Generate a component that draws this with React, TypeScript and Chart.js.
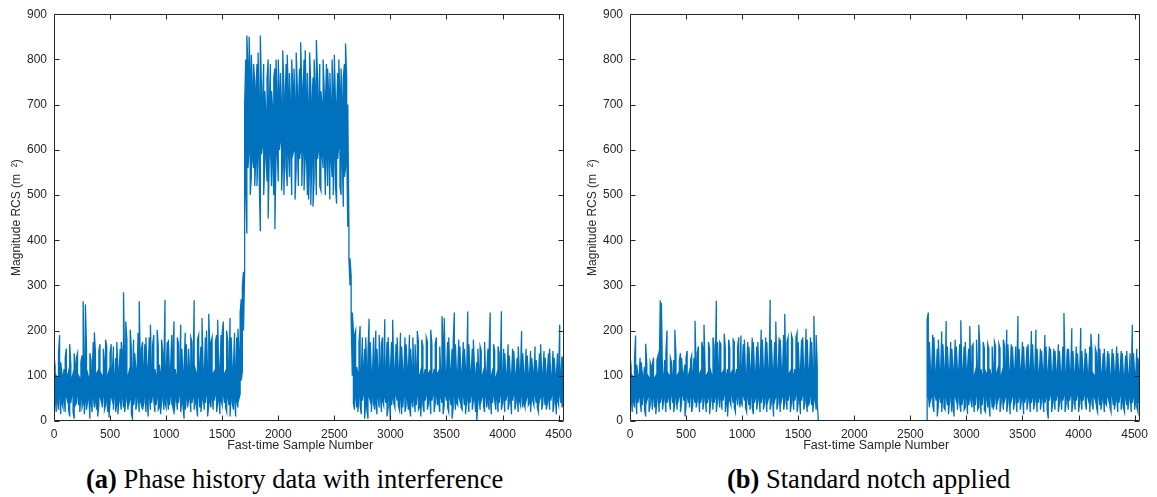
import React, { useEffect, useRef } from "react";
import { Chart, registerables } from "chart.js";

Chart.register(...registerables);

// ---------------- data ----------------
// Each series is stored as its envelope: for every bin of SAMPLE_STEP fast-time
// samples, the lowest and highest magnitude.
const SAMPLE_STEP = 10;
const X_MAX = 4550;
const Y_MAX = 900;
const X_TICKS = [0, 500, 1000, 1500, 2000, 2500, 3000, 3500, 4000, 4500];
const Y_TICKS = [0, 100, 200, 300, 400, 500, 600, 700, 800, 900];

const X_TITLE = "Fast-time Sample Number";
const Y_TITLE = "Magnitude RCS (m  \u00B2)";
const CAPTION_A_LABEL = "(a)";
const CAPTION_A_TEXT = " Phase history data with interference";
const CAPTION_B_LABEL = "(b)";
const CAPTION_B_TEXT = " Standard notch applied";

// Panel (a): phase history data with interference (bins from sample 0)
const A_START = 0;
const A_HIGH = [
  145, 120, 100, 95, 150, 190, 130, 105, 98, 115, 140, 160, 100, 110, 170, 125, 95, 105, 150, 120,
  140, 150, 100, 95, 130, 145, 265, 110, 258, 160, 105, 95, 150, 135, 100, 175, 196, 150, 105, 110,
  155, 170, 105, 100, 160, 130, 180, 165, 100, 110, 150, 170, 105, 165, 95, 140, 175, 120, 100, 160,
  175, 150, 285, 120, 220, 180, 100, 110, 202, 160, 100, 180, 150, 115, 100, 195, 265, 120, 160, 175,
  110, 170, 185, 100, 120, 185, 213, 105, 170, 190, 115, 100, 202, 165, 125, 105, 180, 150, 115, 268,
  110, 175, 180, 105, 120, 190, 150, 220, 115, 100, 185, 170, 105, 213, 160, 100, 115, 195, 170, 105,
  160, 110, 185, 175, 100, 267, 115, 105, 180, 190, 120, 165, 228, 110, 100, 185, 200, 105, 237, 160,
  175, 185, 105, 110, 175, 190, 224, 100, 115, 190, 195, 220, 105, 110, 200, 175, 105, 228, 185, 110,
  115, 195, 110, 185, 204, 150, 240, 270, 300, 330, 700, 800, 853, 780, 850, 760, 810, 730, 790, 750,
  720, 790, 815, 700, 853, 740, 700, 790, 730, 680, 760, 800, 700, 790, 730, 690, 760, 780, 800, 710,
  800, 720, 770, 690, 820, 740, 700, 790, 810, 720, 770, 700, 800, 730, 780, 700, 815, 740, 700, 780,
  838, 740, 720, 800, 820, 710, 770, 690, 815, 740, 700, 760, 800, 730, 843, 760, 700, 790, 730, 700,
  800, 730, 700, 790, 780, 720, 770, 700, 800, 730, 810, 710, 690, 770, 800, 720, 780, 700, 760, 790,
  835, 760, 700, 430, 360, 320, 240, 200, 190, 200, 120, 105, 175, 210, 100, 185, 115, 160, 185, 110,
  150, 226, 175, 110, 100, 185, 120, 200, 160, 105, 190, 115, 170, 185, 100, 225, 110, 175, 185, 115,
  110, 175, 224, 120, 100, 170, 185, 115, 105, 195, 165, 110, 100, 185, 170, 120, 105, 190, 160, 115,
  185, 105, 170, 115, 199, 175, 100, 110, 180, 165, 100, 115, 185, 175, 105, 110, 202, 170, 100, 115,
  170, 185, 105, 110, 165, 100, 232, 175, 228, 105, 100, 175, 185, 115, 105, 160, 175, 240, 170, 100,
  110, 180, 165, 100, 105, 175, 160, 115, 100, 242, 170, 110, 100, 160, 180, 115, 100, 130, 160, 105,
  165, 155, 100, 110, 175, 95, 105, 160, 150, 240, 100, 110, 170, 155, 95, 105, 165, 150, 100, 243,
  100, 160, 150, 95, 105, 170, 145, 100, 95, 160, 155, 105, 95, 140, 165, 110, 100, 199, 150, 105,
  95, 160, 145, 105, 95, 155, 140, 110, 95, 165, 135, 105, 100, 150, 170, 95, 105, 155, 140, 95,
  110, 150, 160, 95, 100, 155, 140, 105, 95, 150, 100, 213, 105, 143, 140,
];
const A_LOW = [
  30, 55, 20, 45, 25, 60, 15, 40, 30, 50, 20, 55, 45, 25, 10, 40, 60, 20, 5, 35,
  40, 60, 35, 20, 55, 30, 40, 15, 50, 25, 45, 60, 5, 40, 20, 55, 30, 45, 25, 10,
  35, 55, 45, 30, 60, 25, 35, 50, 20, 8, 40, 55, 45, 25, 60, 20, 40, 15, 50, 45,
  25, 55, 30, 20, 45, 60, 25, 40, 50, 15, 5, 35, 55, 25, 40, 60, 20, 45, 35, 25,
  40, 60, 20, 45, 10, 55, 25, 40, 60, 45, 20, 35, 55, 25, 30, 15, 45, 60, 25, 40,
  30, 55, 25, 35, 60, 40, 30, 15, 45, 55, 25, 40, 60, 20, 45, 35, 5, 25, 55, 30,
  45, 60, 20, 40, 55, 25, 45, 35, 10, 60, 30, 20, 45, 55, 25, 40, 60, 10, 35, 45,
  30, 55, 25, 45, 60, 20, 40, 55, 15, 45, 35, 60, 40, 30, 20, 55, 35, 10, 60, 40,
  25, 55, 10, 45, 30, 50, 60, 90, 110, 200, 330, 520, 415, 560, 600, 500, 540, 580, 560, 520,
  580, 520, 600, 540, 420, 590, 610, 500, 570, 600, 530, 448, 590, 610, 520, 580, 500, 425, 590, 600,
  530, 600, 620, 510, 580, 500, 610, 560, 520, 600, 540, 610, 500, 590, 600, 490, 560, 610, 520, 580,
  600, 520, 610, 510, 580, 600, 500, 490, 570, 478, 590, 474, 540, 610, 500, 580, 600, 520, 510, 590,
  560, 610, 500, 590, 520, 600, 490, 580, 540, 500, 600, 520, 481, 580, 610, 520, 500, 590, 474, 540,
  560, 600, 430, 360, 300, 230, 100, 40, 25, 55, 30, 20, 60, 35, 15, 45, 60, 5, 40, 25,
  5, 55, 45, 20, 60, 40, 25, 45, 15, 55, 30, 60, 20, 45, 35, 55, 40, 10, 30, 60,
  0, 35, 55, 40, 30, 60, 45, 35, 25, 55, 15, 30, 60, 20, 35, 55, 25, 30, 10, 45,
  30, 55, 20, 35, 60, 25, 30, 10, 55, 35, 20, 45, 60, 25, 40, 55, 15, 45, 60, 20,
  40, 60, 35, 45, 20, 55, 40, 15, 35, 60, 45, 30, 20, 55, 35, 5, 30, 60, 25, 40,
  35, 55, 45, 30, 25, 60, 35, 15, 45, 55, 20, 40, 60, 25, 45, 55, 20, 0, 40, 55,
  25, 45, 55, 35, 20, 60, 30, 45, 25, 55, 15, 40, 60, 45, 25, 55, 20, 40, 60, 25,
  40, 55, 20, 45, 60, 25, 40, 55, 15, 45, 60, 25, 40, 55, 20, 45, 35, 60, 30, 40,
  30, 45, 55, 35, 40, 20, 55, 45, 35, 60, 40, 30, 20, 45, 55, 25, 40, 60, 35, 25,
  40, 55, 25, 45, 60, 20, 40, 55, 15, 45, 35, 60, 40, 30, 45,
];

// Panel (b): standard notch applied
const B_LEFT_START = 0;
const B_LEFT_HIGH = [
  145, 120, 100, 95, 135, 189, 125, 100, 95, 140, 130, 105, 95, 120, 171, 125, 100, 95, 130, 120,
  125, 140, 95, 100, 135, 145, 105, 267, 261, 100, 95, 135, 150, 200, 105, 100, 140, 130, 95, 135,
  202, 145, 100, 105, 135, 150, 140, 100, 105, 125, 140, 155, 100, 110, 135, 145, 100, 140, 222, 110,
  150, 165, 105, 110, 175, 160, 213, 115, 100, 105, 175, 160, 110, 100, 185, 165, 105, 266, 175, 110,
  175, 170, 105, 110, 193, 160, 100, 115, 180, 160, 105, 110, 180, 175, 100, 115, 165, 185, 105, 189,
  110, 170, 180, 105, 100, 175, 165, 115, 105, 184, 175, 110, 100, 165, 175, 110, 105, 202, 180, 110,
  105, 185, 175, 110, 100, 268, 180, 115, 105, 175, 220, 110, 100, 185, 180, 115, 105, 190, 237, 110,
  175, 185, 105, 110, 190, 180, 100, 115, 185, 195, 175, 105, 110, 180, 185, 100, 110, 204, 180, 105,
  110, 185, 175, 105, 233, 110, 190, 120,
];
const B_LEFT_LOW = [
  35, 55, 20, 45, 30, 60, 15, 40, 55, 45, 20, 35, 60, 25, 10, 45, 55, 20, 35, 60,
  25, 55, 30, 15, 45, 60, 20, 40, 55, 25, 45, 60, 20, 40, 55, 45, 25, 60, 40, 20,
  40, 60, 25, 45, 55, 20, 40, 60, 45, 10, 35, 55, 40, 30, 60, 20, 35, 55, 40, 30,
  45, 60, 20, 40, 55, 25, 45, 60, 20, 40, 55, 15, 45, 60, 25, 40, 55, 20, 45, 60,
  30, 55, 25, 45, 60, 20, 40, 10, 55, 45, 35, 60, 40, 30, 20, 55, 35, 60, 30, 40,
  35, 60, 45, 30, 20, 55, 35, 25, 60, 30, 15, 40, 55, 25, 45, 60, 20, 40, 55, 25,
  40, 60, 20, 45, 55, 25, 40, 60, 10, 45, 55, 25, 40, 60, 20, 45, 55, 25, 40, 60,
  25, 45, 60, 20, 40, 55, 25, 45, 60, 20, 40, 55, 15, 45, 60, 25, 40, 55, 20, 35,
  40, 60, 35, 20, 45, 55, 25, 40,
];
const NOTCH_START = 1680;
const NOTCH_END = 2640;
const NOTCH_VALUE = 0;
const B_RIGHT_START = 2650;
const B_RIGHT_HIGH = [
  224, 240, 175, 110, 105, 191, 185, 115, 100, 160, 180, 110, 105, 198, 170, 115, 100, 221, 165, 110,
  105, 175, 160, 115, 100, 180, 165, 110, 105, 170, 223, 100, 110, 165, 175, 105, 115, 160, 210, 105,
  165, 170, 100, 110, 180, 105, 213, 165, 115, 100, 175, 160, 110, 105, 170, 160, 115, 100, 165, 110,
  175, 165, 105, 115, 170, 160, 100, 110, 180, 165, 105, 202, 170, 110, 100, 170, 165, 115, 105, 165,
  110, 232, 160, 105, 115, 175, 165, 100, 110, 165, 170, 105, 115, 199, 170, 100, 110, 202, 160, 105,
  100, 160, 155, 110, 105, 190, 165, 100, 110, 165, 160, 100, 105, 160, 155, 110, 100, 170, 155, 105,
  100, 165, 239, 105, 100, 160, 160, 110, 100, 205, 155, 105, 100, 165, 150, 110, 100, 206, 155, 105,
  100, 160, 150, 105, 100, 165, 193, 155, 105, 100, 160, 150, 110, 193, 160, 100, 105, 150, 160, 100,
  105, 155, 150, 100, 95, 160, 150, 105, 100, 165, 150, 95, 105, 155, 150, 100, 95, 145, 155, 100,
  100, 150, 95, 213, 150, 105, 100, 160, 140, 105,
];
const B_RIGHT_LOW = [
  0, 60, 30, 45, 55, 35, 20, 60, 45, 10, 35, 55, 40, 20, 60, 30, 25, 55, 35, 15,
  45, 60, 20, 40, 10, 55, 45, 25, 60, 40, 20, 35, 55, 25, 30, 60, 15, 35, 55, 45,
  30, 55, 20, 35, 60, 25, 30, 55, 15, 35, 60, 25, 20, 55, 30, 45, 10, 60, 30, 25,
  40, 60, 25, 45, 55, 20, 40, 60, 25, 45, 55, 20, 40, 60, 15, 45, 55, 25, 40, 60,
  20, 40, 55, 25, 45, 60, 15, 40, 55, 25, 45, 60, 20, 40, 55, 25, 45, 60, 20, 40,
  55, 25, 45, 60, 20, 40, 55, 25, 5, 45, 60, 20, 40, 55, 25, 45, 60, 20, 40, 55,
  25, 45, 60, 20, 40, 55, 25, 45, 60, 20, 40, 55, 25, 45, 60, 20, 40, 55, 25, 45,
  60, 40, 25, 55, 45, 20, 60, 40, 25, 55, 45, 30, 20, 60, 35, 25, 45, 60, 20, 40,
  35, 55, 45, 30, 20, 60, 35, 25, 45, 55, 20, 40, 60, 25, 45, 30, 20, 55, 35, 25,
  45, 60, 20, 40, 55, 25, 45, 30, 20, 40,
];

// ---------------- styles ----------------
const LINE_COLOR = "#0072BD";
const AXIS_COLOR = "#262626";
const SANS = "'Liberation Sans', Arial, Helvetica, sans-serif";
const SERIF = "'Liberation Serif', 'Times New Roman', Times, serif";
const CANVAS_W = 578;
const CANVAS_H = 460;

type Pt = { x: number; y: number };

// Trace each bin's envelope as a vertical stroke, alternating direction so the
// polyline runs along the top and bottom edges between bins.
function envelopePoints(start: number, lows: number[], highs: number[]): Pt[] {
  const pts: Pt[] = [];
  lows.forEach((lo, i) => {
    const x = start + i * SAMPLE_STEP;
    const hi = highs[i];
    if (i % 2 === 0) {
      pts.push({ x, y: lo }, { x, y: hi });
    } else {
      pts.push({ x, y: hi }, { x, y: lo });
    }
  });
  return pts;
}

const boxPlugin = {
  id: "matlabBox",
  afterDatasetsDraw(chart: any) {
    const { ctx, chartArea, scales } = chart;
    const { left, right, top, bottom } = chartArea;
    const xs = scales.x;
    const ys = scales.y;
    const L = Math.round(left) + 0.5;
    const R = Math.round(right) - 0.5;
    const T = Math.round(top) + 0.5;
    const B = Math.round(bottom) - 0.5;
    const tick = 5;
    ctx.save();
    ctx.strokeStyle = AXIS_COLOR;
    ctx.lineWidth = 1;
    ctx.beginPath();
    ctx.moveTo(L, T);
    ctx.lineTo(R, T);
    ctx.lineTo(R, B);
    ctx.lineTo(L, B);
    ctx.closePath();
    for (const v of X_TICKS) {
      const px = Math.round(xs.getPixelForValue(v)) + 0.5;
      ctx.moveTo(px, B);
      ctx.lineTo(px, B - tick);
      ctx.moveTo(px, T);
      ctx.lineTo(px, T + tick);
    }
    for (const v of Y_TICKS) {
      const py = Math.round(ys.getPixelForValue(v)) + 0.5;
      ctx.moveTo(L, py);
      ctx.lineTo(L + tick, py);
      ctx.moveTo(R, py);
      ctx.lineTo(R - tick, py);
    }
    ctx.stroke();
    // x-axis title (MATLAB places it slightly left of the axes centre)
    ctx.fillStyle = AXIS_COLOR;
    ctx.font = "12.5px " + SANS;
    ctx.textAlign = "center";
    ctx.textBaseline = "middle";
    ctx.fillText(X_TITLE, (left + right) / 2 - 9, 446);
    ctx.restore();
  },
};

function makeConfig(points: Pt[]): any {
  return {
    type: "line",
    data: {
      datasets: [
        {
          data: points,
          borderColor: LINE_COLOR,
          backgroundColor: LINE_COLOR,
          borderWidth: 1.3,
          pointRadius: 0,
          tension: 0,
          fill: false,
        },
      ],
    },
    options: {
      animation: false,
      responsive: false,
      maintainAspectRatio: false,
      parsing: false,
      events: [],
      layout: { padding: { top: 13, right: 5, left: 0, bottom: 0 } },
      plugins: { legend: { display: false }, tooltip: { enabled: false } },
      scales: {
        x: {
          type: "linear",
          min: 0,
          max: X_MAX,
          grid: { display: false, drawTicks: false },
          border: { display: false },
          afterBuildTicks: (s: any) => {
            s.ticks = X_TICKS.map((v) => ({ value: v }));
          },
          afterFit: (s: any) => {
            s.height = CANVAS_H - 421;
          },
          ticks: {
            padding: 6,
            color: AXIS_COLOR,
            font: { family: SANS, size: 12 },
            maxRotation: 0,
            autoSkip: false,
            callback: (v: any) => String(v),
          },
          title: { display: false, text: X_TITLE },
        },
        y: {
          type: "linear",
          min: 0,
          max: Y_MAX,
          grid: { display: false, drawTicks: false },
          border: { display: false },
          afterBuildTicks: (s: any) => {
            s.ticks = Y_TICKS.map((v) => ({ value: v }));
          },
          afterFit: (s: any) => {
            s.width = 54;
          },
          ticks: {
            padding: 7,
            color: AXIS_COLOR,
            font: { family: SANS, size: 12 },
            autoSkip: false,
            callback: (v: any) => String(v),
          },
          title: {
            display: true,
            text: Y_TITLE,
            color: AXIS_COLOR,
            font: { family: SANS, size: 12 },
            padding: { top: 9, bottom: 0 },
          },
        },
      },
    },
    plugins: [boxPlugin],
  };
}

function Panel({ points, left }: { points: Pt[]; left: number }) {
  const ref = useRef<HTMLCanvasElement | null>(null);
  useEffect(() => {
    if (!ref.current) return;
    const chart = new Chart(ref.current, makeConfig(points));
    return () => chart.destroy();
  }, [points]);
  return (
    <canvas
      ref={ref}
      width={CANVAS_W}
      height={CANVAS_H}
      style={{ position: "absolute", left, top: 0, width: CANVAS_W, height: CANVAS_H }}
    />
  );
}

const pointsA = envelopePoints(A_START, A_LOW, A_HIGH);
const pointsB: Pt[] = [
  ...envelopePoints(B_LEFT_START, B_LEFT_LOW, B_LEFT_HIGH),
  { x: NOTCH_START, y: NOTCH_VALUE },
  { x: NOTCH_END, y: NOTCH_VALUE },
  ...envelopePoints(B_RIGHT_START, B_RIGHT_LOW, B_RIGHT_HIGH),
];

const captionStyle: React.CSSProperties = {
  position: "absolute",
  top: 466,
  fontFamily: SERIF,
  fontSize: 26.5,
  lineHeight: "26.5px",
  whiteSpace: "nowrap",
  color: "#000",
};

export default function App() {
  return (
    <div
      style={{
        position: "fixed",
        left: 0,
        top: 0,
        width: 1157,
        height: 497,
        background: "#fff",
        overflow: "hidden",
      }}
    >
      <Panel points={pointsA} left={0} />
      <Panel points={pointsB} left={576} />
      <div style={{ ...captionStyle, left: 86 }}>
        <b>{CAPTION_A_LABEL}</b>
        {CAPTION_A_TEXT}
      </div>
      <div style={{ ...captionStyle, left: 727 }}>
        <b>{CAPTION_B_LABEL}</b>
        {CAPTION_B_TEXT}
      </div>
    </div>
  );
}
